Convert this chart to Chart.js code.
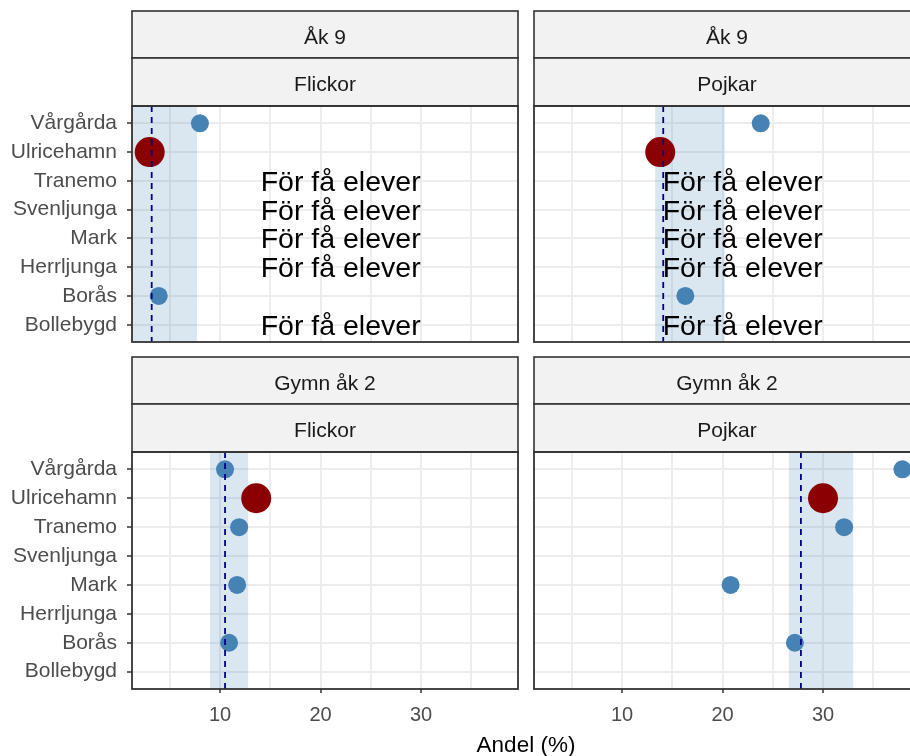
<!DOCTYPE html>
<html>
<head>
<meta charset="utf-8">
<title>Andel (%)</title>
<script src="https://cdn.jsdelivr.net/npm/chart.js@4/dist/chart.umd.min.js"></script>
<style>
  html, body { margin: 0; padding: 0; background: #fff; overflow: hidden; }
  body { width: 910px; height: 756px; position: relative; }
  canvas { position: absolute; }
  #xtitle {
    position: absolute; left: 132px; width: 788px; top: 734px;
    text-align: center; color: #000;
    font: 22.5px 'Liberation Sans', Arial, sans-serif; line-height: 22px;
  }
</style>
</head>
<body>
<canvas id="ak9-flickor"  width="519" height="343" style="left:0;top:0"></canvas>
<canvas id="ak9-pojkar"   width="388" height="343" style="left:533px;top:0"></canvas>
<canvas id="gymn-flickor" width="519" height="411" style="left:0;top:345px"></canvas>
<canvas id="gymn-pojkar"  width="388" height="411" style="left:533px;top:345px"></canvas>
<div id="xtitle">Andel (%)</div>

<script>
const kommuner = ['Vårgårda', 'Ulricehamn', 'Tranemo', 'Svenljunga', 'Mark', 'Herrljunga', 'Borås', 'Bollebygd'];
const highlight = 'Ulricehamn';

// andel (%) per kommun, null = inget värde
const ak9Flickor  = [8.0, 3.0, null, null, null, null, 3.9, null];
const ak9Pojkar   = [23.8, 13.8, null, null, null, null, 16.3, null];
const gymnFlickor = [10.5, 13.6, 11.9, null, 11.7, null, 10.9, null];
const gymnPojkar  = [37.9, 30.0, 32.1, null, 20.8, null, 27.2, null];

// rows marked "För få elever"
const ak9FaElever  = [false, false, true, true, true, true, false, true];
const gymnFaElever = [false, false, false, false, false, false, false, false];
const faEleverText = 'För få elever';
const faEleverX = 22;

// regional mean (dashed) and interval (band), order: ak9 F, ak9 P, gymn F, gymn P
const medel     = [3.2, 14.1, 10.5, 27.8];
const intervall = [[-1.6, 7.7], [13.3, 20.2], [9.0, 12.8], [26.6, 33.0]];

const xTicks = [5, 10, 15, 20, 25, 30, 35];
const xMin = 1.24, xMax = 39.65;

const FONT = "'Liberation Sans', Arial, sans-serif";
const GRID = '#EDEDED';
const DARK = '#333333';

const facetPlugin = {
  id: 'facet',
  beforeDatasetsDraw(chart, args, o) {
    const { ctx, chartArea: a, scales: { x } } = chart;
    const x0 = Math.max(a.left, x.getPixelForValue(o.band[0]));
    const x1 = Math.min(a.right, x.getPixelForValue(o.band[1]));
    ctx.save();
    ctx.fillStyle = 'rgba(70,130,180,0.2)';
    ctx.fillRect(x0, a.top, x1 - x0, a.bottom - a.top);
    ctx.restore();
  },
  afterDatasetsDraw(chart, args, o) {
    const { ctx, chartArea: a, scales: { x, y } } = chart;
    ctx.save();
    // mean line
    const mx = x.getPixelForValue(o.mean);
    ctx.strokeStyle = '#00008B';
    ctx.lineWidth = 1.8;
    ctx.setLineDash([6, 5]);
    ctx.beginPath();
    ctx.moveTo(mx, a.top);
    ctx.lineTo(mx, a.bottom);
    ctx.stroke();
    ctx.setLineDash([]);
    // too few pupils
    ctx.fillStyle = '#000';
    ctx.font = '28.5px ' + FONT;
    ctx.textAlign = 'center';
    ctx.textBaseline = 'alphabetic';
    o.fa.forEach((flag, i) => {
      if (!flag) return;
      ctx.fillText(faEleverText, x.getPixelForValue(faEleverX), y.getPixelForValue(i) + 10);
    });
    ctx.restore();
  },
  afterDraw(chart, args, o) {
    const { ctx, chartArea: a } = chart;
    const w = a.right - a.left;
    ctx.save();
    const rows = [[a.top - 95, a.top - 48], [a.top - 48, a.top]];
    ctx.font = '21px ' + FONT;
    ctx.textAlign = 'center';
    ctx.textBaseline = 'alphabetic';
    rows.forEach(([t, b], i) => {
      ctx.fillStyle = '#F2F2F2';
      ctx.fillRect(a.left, t, w, b - t);
      ctx.strokeStyle = DARK;
      ctx.lineWidth = 1.6;
      ctx.strokeRect(a.left, t, w, b - t);
      ctx.fillStyle = '#1A1A1A';
      ctx.fillText(o.strips[i], a.left + w / 2, (t + b) / 2 + 9);
    });
    ctx.strokeStyle = DARK;
    ctx.lineWidth = 1.8;
    ctx.strokeRect(a.left, a.top, w, a.bottom - a.top);
    ctx.restore();
  }
};

function makePanel(id, values, fa, idx, strips, isLeft, isBottom) {
  const blue = [], red = [];
  kommuner.forEach((k, i) => {
    if (values[i] == null) return;
    (k === highlight ? red : blue).push({ x: values[i], y: i });
  });

  return new Chart(document.getElementById(id), {
    type: 'scatter',
    data: {
      datasets: [
        { data: blue, pointRadius: 9, pointBackgroundColor: '#4682B4', pointBorderWidth: 0, borderWidth: 0 },
        { data: red, pointRadius: 15, pointBackgroundColor: '#8B0000', pointBorderWidth: 0, borderWidth: 0 }
      ]
    },
    options: {
      responsive: false,
      animation: false,
      events: [],
      layout: {
        autoPadding: false,
        padding: { top: isBottom ? 107 : 106, bottom: isBottom ? 0 : 1, left: isLeft ? 0 : 1, right: 1 }
      },
      plugins: {
        legend: { display: false },
        tooltip: { enabled: false },
        facet: { strips, band: intervall[idx], mean: medel[idx], fa }
      },
      scales: {
        x: {
          type: 'linear', min: xMin, max: xMax,
          border: { display: false },
          afterBuildTicks: s => { s.ticks = xTicks.map(v => ({ value: v })); },
          afterFit: s => { s.height = isBottom ? 67 : 0; s.paddingLeft = 0; s.paddingRight = 0; },
          grid: {
            color: GRID, lineWidth: 2,
            drawTicks: isBottom, tickLength: 4, tickWidth: 1.5,
            tickColor: c => (c.tick && c.tick.value % 10 === 0) ? DARK : 'rgba(0,0,0,0)'
          },
          ticks: {
            display: isBottom, autoSkip: false, maxRotation: 0, padding: 10,
            color: '#4D4D4D', font: { family: FONT, size: 20 },
            callback: v => v % 10 === 0 ? String(v) : ''
          }
        },
        y: {
          type: 'linear', min: -0.6, max: 7.6, reverse: true,
          border: { display: false },
          afterBuildTicks: s => { s.ticks = kommuner.map((k, i) => ({ value: i })); },
          afterFit: s => { s.width = isLeft ? 132 : 0; s.paddingTop = 0; s.paddingBottom = 0; },
          grid: { color: GRID, lineWidth: 2, drawTicks: isLeft, tickLength: 5, tickWidth: 1.5, tickColor: DARK },
          ticks: {
            display: isLeft, autoSkip: false, padding: 10,
            color: '#4D4D4D', font: { family: FONT, size: 21 },
            callback: v => kommuner[v]
          }
        }
      }
    },
    plugins: [facetPlugin]
  });
}

makePanel('ak9-flickor',  ak9Flickor,  ak9FaElever,  0, ['Åk 9', 'Flickor'],      true,  false);
makePanel('ak9-pojkar',   ak9Pojkar,   ak9FaElever,  1, ['Åk 9', 'Pojkar'],       false, false);
makePanel('gymn-flickor', gymnFlickor, gymnFaElever, 2, ['Gymn åk 2', 'Flickor'], true,  true);
makePanel('gymn-pojkar',  gymnPojkar,  gymnFaElever, 3, ['Gymn åk 2', 'Pojkar'],  false, true);
</script>
</body>
</html>
